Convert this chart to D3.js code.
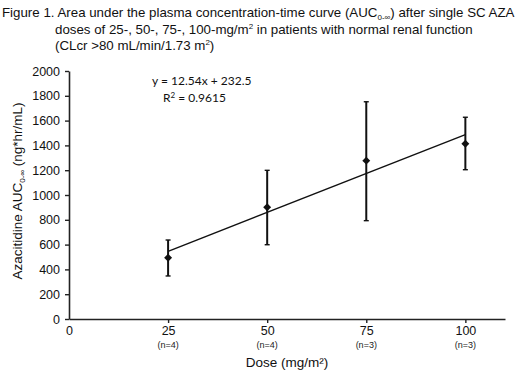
<!DOCTYPE html>
<html>
<head>
<meta charset="utf-8">
<script src="https://cdn.jsdelivr.net/npm/d3@7"></script>
<style>
  body { margin: 0; background: #fff; }
  svg { font-family: "Liberation Sans", Arial, sans-serif; }
</style>
</head>
<body>
<div id="grafico"></div>
<script>
// dados
const doses = [25, 50, 75, 100];
const nPacientes = ["(n=4)", "(n=4)", "(n=3)", "(n=3)"];
const aucMedia = [494, 901, 1277, 1414];
const aucMin = [347, 599, 793, 1204];
const aucMax = [637, 1199, 1752, 1627];
const yTicks = [0, 200, 400, 600, 800, 1000, 1200, 1400, 1600, 1800, 2000];
const xTicks = [0, 25, 50, 75, 100];
const inclinacao = 12.54;
const intercepto = 232.5;

const largura = 520, altura = 378;
const svg = d3.select("#grafico").append("svg")
  .attr("width", largura).attr("height", altura);

const x = d3.scaleLinear().domain([0, 110]).range([69, 505]);
const y = d3.scaleLinear().domain([0, 2000]).range([319, 71]);

// título
const titulo = svg.append("g").style("font-size", "13.3px").attr("fill", "#111");
const l1 = titulo.append("text").attr("x", 2).attr("y", 17);
l1.append("tspan").text("Figure 1. Area under the plasma concentration-time curve (AUC");
l1.append("tspan").attr("dy", 3).style("font-size", "8px").text("0-\u221E");
l1.append("tspan").attr("dy", -3).text(") after single SC AZA");
const l2 = titulo.append("text").attr("x", 55).attr("y", 34);
l2.append("tspan").text("doses of 25-, 50-, 75-, 100-mg/m");
l2.append("tspan").attr("dy", -5).style("font-size", "8px").text("2");
l2.append("tspan").attr("dy", 5).text(" in patients with normal renal function");
const l3 = titulo.append("text").attr("x", 55).attr("y", 50);
l3.append("tspan").text("(CLcr >80 mL/min/1.73 m");
l3.append("tspan").attr("dy", -5).style("font-size", "8px").text("2");
l3.append("tspan").attr("dy", 5).text(")");

// eixos
const eixoY = svg.append("g")
  .attr("transform", "translate(69,0)")
  .call(d3.axisLeft(y).tickValues(yTicks).tickFormat(d3.format("d"))
    .tickSize(4).tickSizeOuter(0).tickPadding(5));
eixoY.selectAll("text").style("font-size", "12.5px").attr("fill", "#111");

const eixoX = svg.append("g")
  .attr("transform", "translate(0,319)")
  .call(d3.axisBottom(x).tickValues(xTicks).tickFormat(d3.format("d"))
    .tickSize(4).tickSizeOuter(0).tickPadding(3));
eixoX.selectAll("text").style("font-size", "12.5px").attr("fill", "#111");
eixoX.selectAll(".tick").filter(d => d === 0).select("line").remove();
[eixoY, eixoX].forEach(g => {
  g.select(".domain").attr("stroke", "#222").attr("stroke-width", 1.6);
  g.selectAll(".tick line").attr("stroke", "#222").attr("stroke-width", 1.4);
});

// (n=...) abaixo dos ticks
svg.selectAll("text.n")
  .data(doses)
  .enter().append("text")
  .attr("class", "n")
  .attr("x", d => x(d))
  .attr("y", 348)
  .attr("text-anchor", "middle")
  .style("font-size", "9px")
  .attr("fill", "#222")
  .text((d, i) => nPacientes[i]);

// títulos dos eixos
svg.append("text")
  .attr("x", x(55))
  .attr("y", 367)
  .attr("text-anchor", "middle")
  .style("font-size", "13.5px")
  .attr("fill", "#111")
  .text("Dose (mg/m\u00B2)");

const rotY = svg.append("text")
  .attr("transform", "translate(22,191) rotate(-90)")
  .attr("text-anchor", "middle")
  .style("font-size", "13.5px")
  .attr("fill", "#111");
rotY.append("tspan").text("Azacitidine AUC");
rotY.append("tspan").attr("dy", 3).style("font-size", "8px").text("0-\u221E");
rotY.append("tspan").attr("dy", -3).text("  (ng*hr/mL)");

// linha de tendência
svg.append("line")
  .attr("x1", x(25)).attr("y1", y(inclinacao * 25 + intercepto))
  .attr("x2", x(100)).attr("y2", y(inclinacao * 100 + intercepto))
  .attr("stroke", "#111").attr("stroke-width", 1.4);

// barras de erro
const erros = svg.append("g").attr("stroke", "#111");
doses.forEach((d, i) => {
  erros.append("line")
    .attr("x1", x(d)).attr("x2", x(d))
    .attr("y1", y(aucMin[i])).attr("y2", y(aucMax[i]))
    .attr("stroke-width", 2);
  [aucMin[i], aucMax[i]].forEach(v => {
    erros.append("line")
      .attr("x1", x(d) - 2.5).attr("x2", x(d) + 2.5)
      .attr("y1", y(v)).attr("y2", y(v))
      .attr("stroke-width", 1.4);
  });
});

// pontos (losangos)
svg.selectAll("path.ponto")
  .data(doses)
  .enter().append("path")
  .attr("class", "ponto")
  .attr("d", d3.symbol().type(d3.symbolDiamond2).size(40))
  .attr("transform", (d, i) => `translate(${x(d)},${y(aucMedia[i])})`)
  .attr("fill", "#111");

// equação
const eq = svg.append("g").style("font-family", "Lato, 'Open Sans', sans-serif")
  .style("font-size", "12px").attr("fill", "#111");
eq.append("text").attr("x", 152).attr("y", 85)
  .text(`y = ${inclinacao}x + ${intercepto}`);
const r2 = eq.append("text").attr("x", 163).attr("y", 102);
r2.append("tspan").text("R");
r2.append("tspan").attr("dy", -4).style("font-size", "8px").text("2");
r2.append("tspan").attr("dy", 4).text(" = 0.9615");
</script>
</body>
</html>
